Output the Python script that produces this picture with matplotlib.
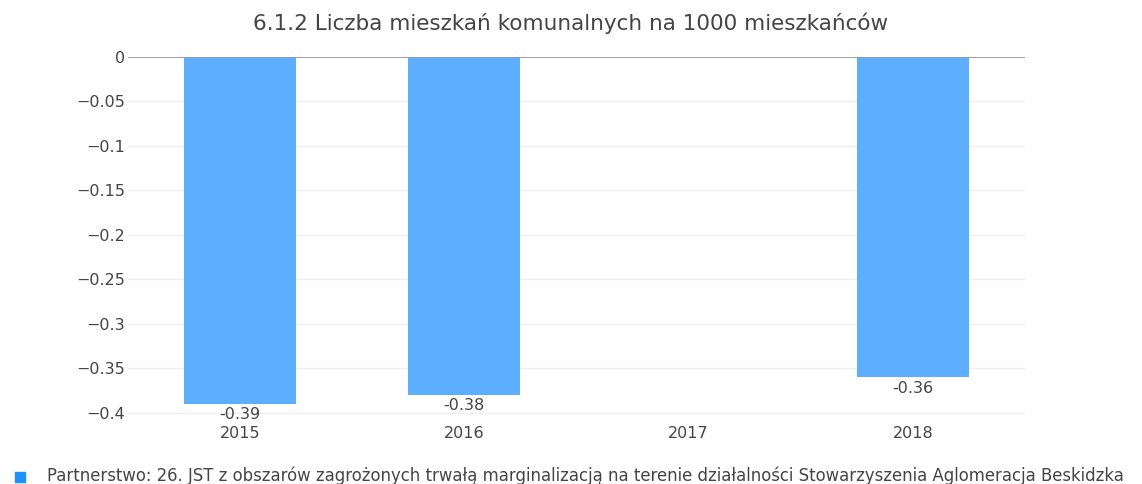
import matplotlib.pyplot as plt
import numpy as np

years = ['2015', '2016', '2017', '2018']
values = [-0.39, -0.38, np.nan, -0.36]
series_name = ('Partnerstwo: 26. JST z obszarów zagrożonych trwałą marginalizacją '
               'na terenie działalności Stowarzyszenia Aglomeracja Beskidzka')
title = '6.1.2 Liczba mieszkań komunalnych na 1000 mieszkańców'
y_ticks = [0, -0.05, -0.1, -0.15, -0.2, -0.25, -0.3, -0.35, -0.4]

TEXT = '#444444'
BAR = '#5eaeff'


def fmt(v):
    if v == 0:
        return '0'
    return '\u2212' + ('%g' % abs(v))


def main():
    plt.rcParams['font.family'] = ['DejaVu Sans']
    fig = plt.figure(figsize=(11.42, 4.84), dpi=100)
    ax = fig.add_axes([128 / 1142, 1 - 422 / 484, 897 / 1142, 365 / 484])

    x = np.arange(len(years))
    heights = [0 if np.isnan(v) else v for v in values]
    ax.bar(x, heights, width=0.5, color=BAR, zorder=2)

    for xi, v in zip(x, values):
        if np.isnan(v):
            continue
        ax.annotate('%.2f' % v, (xi, v), xytext=(0, -2.5), textcoords='offset points',
                    ha='center', va='top', fontsize=11.5, color=TEXT)

    ax.set_xlim(-0.5, 3.5)
    ax.set_ylim(-0.4105, 0)
    ax.set_xticks(x)
    ax.set_xticklabels(years)
    ax.set_yticks(y_ticks)
    ax.set_yticklabels([fmt(t) for t in y_ticks])
    ax.tick_params(axis='both', length=0, labelsize=11.5, colors=TEXT)
    ax.tick_params(axis='x', pad=3)
    ax.tick_params(axis='y', pad=2)

    ax.grid(axis='y', color='#eeeeee', linewidth=1, zorder=0)
    ax.axhline(0, color='#999999', linewidth=1.3, zorder=3)
    for s in ax.spines.values():
        s.set_visible(False)

    fig.text(0.5, 1 - 23 / 484, title, ha='center', va='center',
             fontsize=15.5, color=TEXT)

    # legend entry along the bottom edge
    fig.patches.append(plt.Rectangle((15 / 1142, 1 - 482 / 484), 10 / 1142, 10 / 484,
                                     transform=fig.transFigure, color='#1e90ff'))
    fig.text(47 / 1142, 1 - 476 / 484, series_name, ha='left', va='center',
             fontsize=11.9, color=TEXT)

    fig.savefig('out.png', dpi=100)


if __name__ == '__main__':
    main()
